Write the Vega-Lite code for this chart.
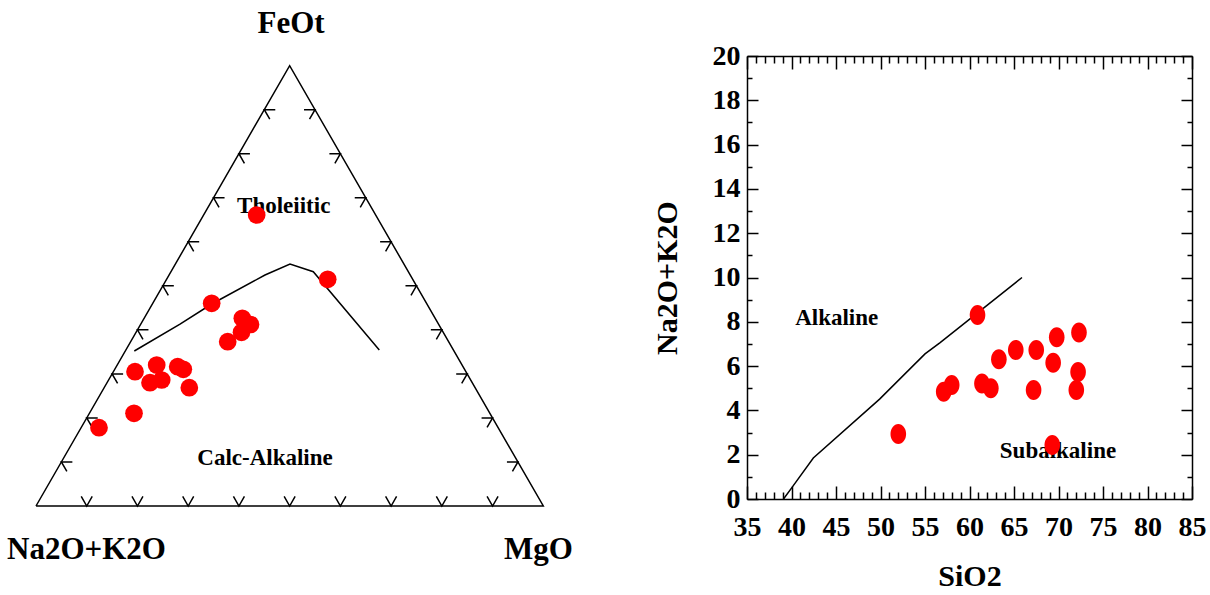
{
  "$schema": "https://vega.github.io/schema/vega-lite/v6.json",
  "width": 445,
  "height": 443,
  "autosize": {"type": "none"},
  "padding": {"left": 747, "top": 56, "right": 18, "bottom": 96},
  "background": "white",
  "config": {"view": {"stroke": null}, "axis": {"grid": false}, "font": "Liberation Serif"},
  "datasets": {
    "tri": [
      {"i": 0, "x": 0, "y": 0},
      {"i": 1, "x": 1, "y": 0},
      {"i": 2, "x": 0.5, "y": 0.868},
      {"i": 3, "x": 0, "y": 0}
    ],
    "tticks": [
      {"edge": "base", "x": 0.1, "y": 0}, {"edge": "base", "x": 0.2, "y": 0}, {"edge": "base", "x": 0.3, "y": 0},
      {"edge": "base", "x": 0.4, "y": 0}, {"edge": "base", "x": 0.5, "y": 0}, {"edge": "base", "x": 0.6, "y": 0},
      {"edge": "base", "x": 0.7, "y": 0}, {"edge": "base", "x": 0.8, "y": 0}, {"edge": "base", "x": 0.9, "y": 0},
      {"edge": "left", "x": 0.05, "y": 0.0868}, {"edge": "left", "x": 0.1, "y": 0.1736}, {"edge": "left", "x": 0.15, "y": 0.2604},
      {"edge": "left", "x": 0.2, "y": 0.3472}, {"edge": "left", "x": 0.25, "y": 0.434}, {"edge": "left", "x": 0.3, "y": 0.5208},
      {"edge": "left", "x": 0.35, "y": 0.6076}, {"edge": "left", "x": 0.4, "y": 0.6944}, {"edge": "left", "x": 0.45, "y": 0.7812},
      {"edge": "right", "x": 0.95, "y": 0.0868}, {"edge": "right", "x": 0.9, "y": 0.1736}, {"edge": "right", "x": 0.85, "y": 0.2604},
      {"edge": "right", "x": 0.8, "y": 0.3472}, {"edge": "right", "x": 0.75, "y": 0.434}, {"edge": "right", "x": 0.7, "y": 0.5208},
      {"edge": "right", "x": 0.65, "y": 0.6076}, {"edge": "right", "x": 0.6, "y": 0.6944}, {"edge": "right", "x": 0.55, "y": 0.7812}
    ],
    "afmcurve": [
      {"x": 0.1938, "y": 0.3055},
      {"x": 0.2839, "y": 0.3585},
      {"x": 0.3463, "y": 0.3982},
      {"x": 0.4514, "y": 0.4553},
      {"x": 0.5007, "y": 0.477},
      {"x": 0.5466, "y": 0.4619},
      {"x": 0.6767, "y": 0.3075}
    ],
    "afm": [
      {"x": 0.435, "y": 0.5736},
      {"x": 0.575, "y": 0.4469},
      {"x": 0.3463, "y": 0.3996},
      {"x": 0.4067, "y": 0.37},
      {"x": 0.4228, "y": 0.3578},
      {"x": 0.4051, "y": 0.3424},
      {"x": 0.3779, "y": 0.3239},
      {"x": 0.1952, "y": 0.2647},
      {"x": 0.2379, "y": 0.2779},
      {"x": 0.2247, "y": 0.2431},
      {"x": 0.2478, "y": 0.2484},
      {"x": 0.2793, "y": 0.2746},
      {"x": 0.2904, "y": 0.2695},
      {"x": 0.3022, "y": 0.2332},
      {"x": 0.1932, "y": 0.1827},
      {"x": 0.1242, "y": 0.1543}
    ],
    "vertexlabels": [
      {"label": "FeOt", "x": 0.5027, "y": 0.9324},
      {"label": "Na2O+K2O", "x": 0.0995, "y": -0.1045},
      {"label": "MgO", "x": 0.9905, "y": -0.1045}
    ],
    "fieldlabels": [
      {"label": "Tholeiitic", "x": 0.4883, "y": 0.577},
      {"label": "Calc-Alkaline", "x": 0.4514, "y": 0.0808}
    ],
    "tas": [
      {"SiO2": 52.0, "alk": 2.93},
      {"SiO2": 57.1, "alk": 4.84},
      {"SiO2": 58.0, "alk": 5.15},
      {"SiO2": 60.9, "alk": 8.31},
      {"SiO2": 61.4, "alk": 5.22},
      {"SiO2": 62.4, "alk": 5.0},
      {"SiO2": 63.3, "alk": 6.31},
      {"SiO2": 65.2, "alk": 6.73},
      {"SiO2": 67.5, "alk": 6.73},
      {"SiO2": 67.2, "alk": 4.92},
      {"SiO2": 69.4, "alk": 6.15},
      {"SiO2": 69.8, "alk": 7.3},
      {"SiO2": 72.3, "alk": 7.52},
      {"SiO2": 72.2, "alk": 5.73},
      {"SiO2": 72.0, "alk": 4.92},
      {"SiO2": 69.3, "alk": 2.44}
    ],
    "divider": [
      {"SiO2": 39.1, "alk": 0},
      {"SiO2": 40.0, "alk": 0.49},
      {"SiO2": 42.45, "alk": 1.85},
      {"SiO2": 49.9, "alk": 4.51},
      {"SiO2": 55.0, "alk": 6.55},
      {"SiO2": 56.7, "alk": 7.06},
      {"SiO2": 65.9, "alk": 10.0}
    ],
    "taslabels": [
      {"label": "Alkaline", "SiO2": 45.08, "alk": 7.86},
      {"label": "Subalkaline", "SiO2": 69.94, "alk": 1.84}
    ]
  },
  "layer": [
    {
      "layer": [
        {
          "data": {"name": "tri"},
          "mark": {"type": "line", "color": "black", "strokeWidth": 1.5, "strokeJoin": "miter"},
          "encoding": {
            "x": {"field": "x", "type": "quantitative", "scale": {"domain": [1.401537, 2.27873], "nice": false, "zero": false}, "axis": null},
            "y": {"field": "y", "type": "quantitative", "scale": {"domain": [0.013799, 0.88705], "nice": false, "zero": false}, "axis": null},
            "order": {"field": "i", "type": "quantitative"}
          }
        },
        {
          "data": {"name": "tticks"},
          "transform": [{"filter": "datum.edge === 'base'"}],
          "mark": {"type": "point", "shape": "M-0.5,-0.866L0,0L0.5,-0.866", "size": 484, "filled": false, "color": "black", "strokeWidth": 1.5, "opacity": 1, "angle": 0},
          "encoding": {
            "x": {"field": "x", "type": "quantitative", "axis": null},
            "y": {"field": "y", "type": "quantitative", "axis": null}
          }
        },
        {
          "data": {"name": "tticks"},
          "transform": [{"filter": "datum.edge === 'left'"}],
          "mark": {"type": "point", "shape": "M-0.5,-0.866L0,0L0.5,-0.866", "size": 484, "filled": false, "color": "black", "strokeWidth": 1.5, "opacity": 1, "angle": 120},
          "encoding": {
            "x": {"field": "x", "type": "quantitative", "axis": null},
            "y": {"field": "y", "type": "quantitative", "axis": null}
          }
        },
        {
          "data": {"name": "tticks"},
          "transform": [{"filter": "datum.edge === 'right'"}],
          "mark": {"type": "point", "shape": "M-0.5,-0.866L0,0L0.5,-0.866", "size": 484, "filled": false, "color": "black", "strokeWidth": 1.5, "opacity": 1, "angle": 240},
          "encoding": {
            "x": {"field": "x", "type": "quantitative", "axis": null},
            "y": {"field": "y", "type": "quantitative", "axis": null}
          }
        },
        {
          "data": {"name": "afmcurve"},
          "mark": {"type": "line", "color": "black", "strokeWidth": 1.5},
          "encoding": {
            "x": {"field": "x", "type": "quantitative", "axis": null},
            "y": {"field": "y", "type": "quantitative", "axis": null}
          }
        },
        {
          "data": {"name": "fieldlabels"},
          "mark": {"type": "text", "font": "Liberation Serif", "fontWeight": "bold", "fontSize": 23, "align": "center", "baseline": "alphabetic", "color": "black"},
          "encoding": {
            "x": {"field": "x", "type": "quantitative", "axis": null},
            "y": {"field": "y", "type": "quantitative", "axis": null},
            "text": {"field": "label"}
          }
        },
        {
          "data": {"name": "vertexlabels"},
          "mark": {"type": "text", "font": "Liberation Serif", "fontWeight": "bold", "fontSize": 31, "align": "center", "baseline": "alphabetic", "color": "black"},
          "encoding": {
            "x": {"field": "x", "type": "quantitative", "axis": null},
            "y": {"field": "y", "type": "quantitative", "axis": null},
            "text": {"field": "label"}
          }
        },
        {
          "data": {"name": "afm"},
          "mark": {"type": "circle", "size": 314, "color": "#ff0000", "opacity": 1},
          "encoding": {
            "x": {"field": "x", "type": "quantitative", "axis": null},
            "y": {"field": "y", "type": "quantitative", "axis": null}
          }
        }
      ]
    },
    {
      "layer": [
        {
          "data": {"name": "taslabels"},
          "transform": [{"filter": "datum.label === 'Alkaline'"}],
          "mark": {"type": "text", "font": "Liberation Serif", "fontWeight": "bold", "fontSize": 23, "align": "center", "baseline": "alphabetic", "color": "black"},
          "encoding": {
            "x": {"field": "SiO2", "type": "quantitative", "scale": {"domain": [35, 85], "nice": false, "zero": false},
              "axis": {"orient": "bottom", "values": [36,37,38,39,41,42,43,44,46,47,48,49,51,52,53,54,56,57,58,59,61,62,63,64,66,67,68,69,71,72,73,74,76,77,78,79,81,82,83,84], "tickSize": -7, "tickWidth": 1.5, "tickColor": "black", "domain": false, "labels": false, "title": null, "grid": false}},
            "y": {"field": "alk", "type": "quantitative", "scale": {"domain": [0, 20], "nice": false, "zero": false},
              "axis": {"orient": "left", "values": [1,3,5,7,9,11,13,15,17,19], "tickSize": -5, "tickWidth": 1.5, "tickColor": "black", "domain": false, "labels": false, "title": null, "grid": false}},
            "text": {"field": "label"}
          }
        },
        {
          "data": {"name": "taslabels"},
          "transform": [{"filter": "datum.label === 'Subalkaline'"}],
          "mark": {"type": "text", "font": "Liberation Serif", "fontWeight": "bold", "fontSize": 23, "align": "center", "baseline": "alphabetic", "color": "black"},
          "encoding": {
            "x": {"field": "SiO2", "type": "quantitative", "scale": {"domain": [35, 85], "nice": false, "zero": false},
              "axis": {"orient": "top", "values": [36,37,38,39,41,42,43,44,46,47,48,49,51,52,53,54,56,57,58,59,61,62,63,64,66,67,68,69,71,72,73,74,76,77,78,79,81,82,83,84], "tickSize": -7, "tickWidth": 1.5, "tickColor": "black", "domain": false, "labels": false, "title": null, "grid": false}},
            "y": {"field": "alk", "type": "quantitative", "scale": {"domain": [0, 20], "nice": false, "zero": false},
              "axis": {"orient": "right", "values": [1,3,5,7,9,11,13,15,17,19], "tickSize": -5, "tickWidth": 1.5, "tickColor": "black", "domain": false, "labels": false, "title": null, "grid": false}},
            "text": {"field": "label"}
          }
        },
        {
          "data": {"name": "divider"},
          "mark": {"type": "line", "color": "black", "strokeWidth": 1.5},
          "encoding": {
            "x": {"field": "SiO2", "type": "quantitative", "scale": {"domain": [35, 85], "nice": false, "zero": false},
              "axis": {"orient": "top", "values": [35,40,45,50,55,60,65,70,75,80,85], "tickSize": -13, "tickWidth": 1.5, "tickColor": "black", "domain": true, "domainColor": "black", "domainWidth": 1.5, "labels": false, "title": null, "grid": false}},
            "y": {"field": "alk", "type": "quantitative", "scale": {"domain": [0, 20], "nice": false, "zero": false},
              "axis": {"orient": "right", "values": [0,2,4,6,8,10,12,14,16,18,20], "tickSize": -11, "tickWidth": 1.5, "tickColor": "black", "domain": true, "domainColor": "black", "domainWidth": 1.5, "labels": false, "title": null, "grid": false}}
          }
        },
        {
          "data": {"name": "tas"},
          "mark": {"type": "point", "shape": "M0,-1A0.78,1,0,1,1,0,1A0.78,1,0,1,1,0,-1Z", "size": 400, "filled": true, "color": "#ff0000", "opacity": 1, "strokeWidth": 0},
          "encoding": {
            "x": {"field": "SiO2", "type": "quantitative", "scale": {"domain": [35, 85], "nice": false, "zero": false},
              "axis": {"orient": "bottom", "values": [35,40,45,50,55,60,65,70,75,80,85], "tickSize": -13, "tickWidth": 1.5, "tickColor": "black", "domain": true, "domainColor": "black", "domainWidth": 1.5, "labels": true, "labelFont": "Liberation Serif", "labelFontWeight": "bold", "labelFontSize": 28, "labelColor": "black", "labelPadding": 27, "labelFlush": false, "labelOverlap": false, "title": "SiO2", "titleFont": "Liberation Serif", "titleFontWeight": "bold", "titleFontSize": 30, "titleColor": "black", "titlePadding": 20, "grid": false}},
            "y": {"field": "alk", "type": "quantitative", "scale": {"domain": [0, 20], "nice": false, "zero": false},
              "axis": {"orient": "left", "values": [0,2,4,6,8,10,12,14,16,18,20], "tickSize": -11, "tickWidth": 1.5, "tickColor": "black", "domain": true, "domainColor": "black", "domainWidth": 1.5, "labels": true, "labelFont": "Liberation Serif", "labelFontWeight": "bold", "labelFontSize": 28, "labelColor": "black", "labelPadding": 18, "labelFlush": false, "labelOverlap": false, "title": "Na2O+K2O", "titleFont": "Liberation Serif", "titleFontWeight": "bold", "titleFontSize": 30, "titleColor": "black", "titlePadding": 30, "grid": false}}
          }
        }
      ],
      "resolve": {"axis": {"x": "independent", "y": "independent"}}
    }
  ],
  "resolve": {"scale": {"x": "independent", "y": "independent"}}
}
